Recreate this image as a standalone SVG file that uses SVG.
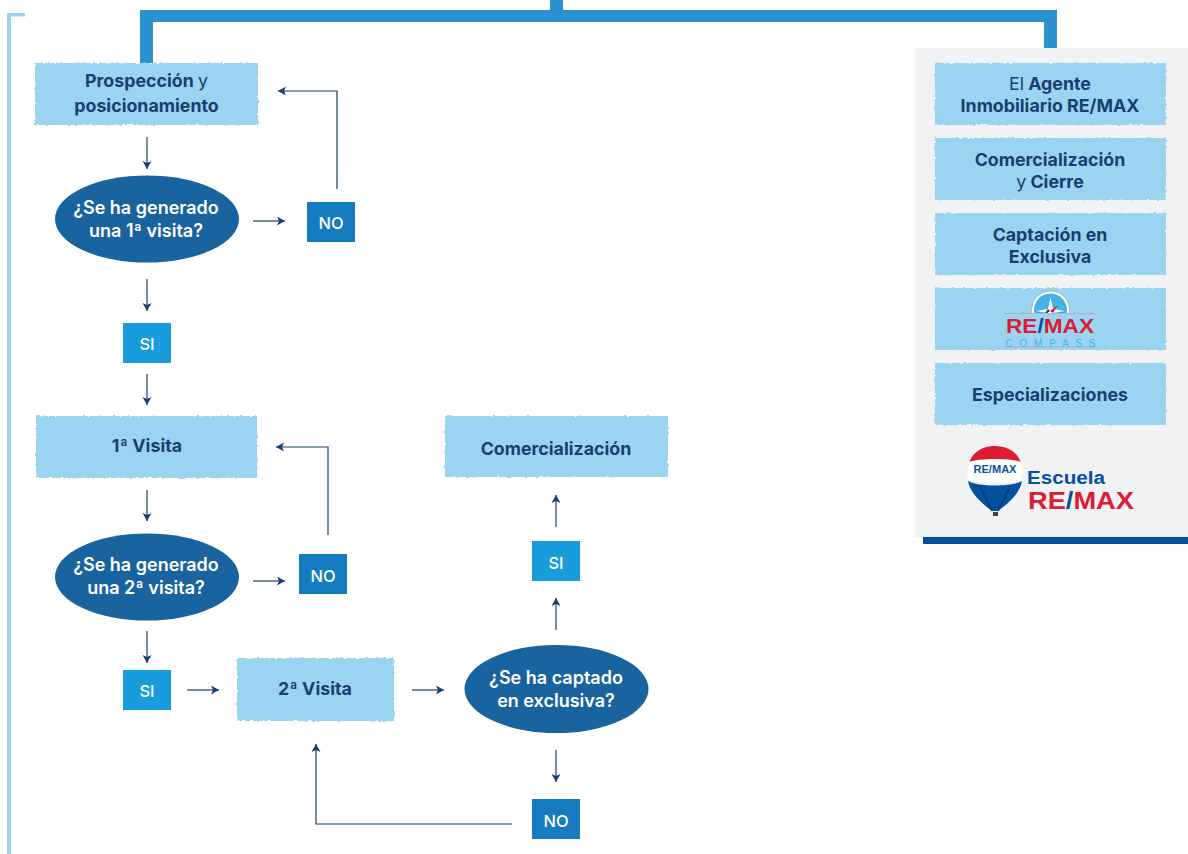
<svg xmlns="http://www.w3.org/2000/svg" width="1188" height="854" viewBox="0 0 1188 854">
<style>
text{font-family:Inter,"Open Sans","Liberation Sans",sans-serif;text-anchor:middle}
.b{fill:#9bd4f0;filter:url(#rough)}
.t{font-size:17.800px;font-weight:700;fill:#1b3e70}
.r{font-weight:400}
.e{fill:#19639f}
.w{font-size:18px;font-weight:600;fill:#fff}
.si{fill:#189cdc}.no{fill:#157cc1}
.s{font-size:16.500px;font-weight:500;fill:#fff}
.c{fill:none;stroke:#1b3e70;stroke-width:1.200;marker-end:url(#a)}
.bar{fill:#2b92cf}
.red{fill:#dc1c33}
.logo{font-family:"Liberation Sans",Arial,sans-serif;font-weight:700}
</style>
<defs>
<marker id="a" markerUnits="userSpaceOnUse" markerWidth="9" markerHeight="10" refX="8" refY="4.500" orient="auto"><path d="M0 0L8 4.500L0 9L2 4.500Z" fill="#1b3e70"/></marker>
<filter id="rough" x="-3%" y="-5%" width="106%" height="110%"><feTurbulence type="fractalNoise" baseFrequency="0.3" numOctaves="2" seed="4"/><feDisplacementMap in="SourceGraphic" scale="2.800" xChannelSelector="R" yChannelSelector="G"/></filter>
<clipPath id="dial"><rect x="1025" y="290" width="50" height="23.500"/></clipPath>
</defs>
<g id="frame">
<path class="bar" d="M550 0H563V10H1057V48H1044V22H153V63H140V10H550Z"/>
<path d="M7 854V13H25V16.500H11V854Z" fill="#9bd4f0"/>
</g>
<g id="panel">
<rect x="923" y="60" width="265" height="484" fill="#03519c"/>
<rect x="915" y="48" width="273" height="489" fill="#f1f2f4"/>
</g>
<g id="connectors">
<path class="c" d="M147 137V169"/>
<path class="c" d="M253 221H285"/>
<path class="c" d="M337 189V91H278"/>
<path class="c" d="M147 279V311"/>
<path class="c" d="M147 374V405"/>
<path class="c" d="M147 490V521"/>
<path class="c" d="M253 581H285"/>
<path class="c" d="M328 535V447H276"/>
<path class="c" d="M147 631V663"/>
<path class="c" d="M187 690H219"/>
<path class="c" d="M412 690H444"/>
<path class="c" d="M556 630V598"/>
<path class="c" d="M556 527V495"/>
<path class="c" d="M556 750V782"/>
<path class="c" d="M512 824H316V744"/>
</g>
<g id="n-prospeccion"><rect class="b" x="35" y="63" width="223" height="62"/><text class="t" x="146.500" y="87">Prospección <tspan class="r">y</tspan></text><text class="t" x="146.500" y="112">posicionamiento</text></g>
<g id="n-q1"><ellipse class="e" cx="147" cy="219" rx="92" ry="43.500"/><text class="w" x="146" y="214">¿Se ha generado</text><text class="w" x="146" y="237">una 1ª visita?</text></g>
<g id="n-no1"><rect class="no" x="307" y="202" width="48" height="40"/><text class="s" x="331" y="229">NO</text></g>
<g id="n-si1"><rect class="si" x="123" y="323" width="48" height="40"/><text class="s" x="147" y="350">SI</text></g>
<g id="n-visita1"><rect class="b" x="36" y="416" width="221" height="62"/><text class="t" x="147" y="452">1ª Visita</text></g>
<g id="n-q2"><ellipse class="e" cx="147" cy="577" rx="92" ry="43.500"/><text class="w" x="146" y="571">¿Se ha generado</text><text class="w" x="146" y="594">una 2ª visita?</text></g>
<g id="n-no2"><rect class="no" x="299" y="554" width="48" height="40"/><text class="s" x="323" y="582">NO</text></g>
<g id="n-si2"><rect class="si" x="123" y="670" width="48" height="40"/><text class="s" x="147" y="697">SI</text></g>
<g id="n-visita2"><rect class="b" x="237" y="658" width="157" height="63"/><text class="t" x="315" y="695">2ª Visita</text></g>
<g id="n-q3"><ellipse class="e" cx="556.500" cy="689" rx="92" ry="44"/><text class="w" x="556" y="684">¿Se ha captado</text><text class="w" x="556" y="707">en exclusiva?</text></g>
<g id="n-no3"><rect class="no" x="532" y="799" width="48" height="40"/><text class="s" x="556" y="827">NO</text></g>
<g id="n-si3"><rect class="si" x="532" y="541" width="48" height="40"/><text class="s" x="556" y="569">SI</text></g>
<g id="n-comercial"><rect class="b" x="445" y="416" width="223" height="61"/><text class="t" x="556" y="455">Comercialización</text></g>
<g id="n-agente"><rect class="b" x="935" y="63" width="231" height="62"/><text class="t" x="1050" y="90"><tspan class="r">El</tspan> Agente</text><text class="t" x="1050" y="112">Inmobiliario RE/MAX</text></g>
<g id="n-cierre"><rect class="b" x="935" y="138" width="231" height="62"/><text class="t" x="1050" y="166">Comercialización</text><text class="t" x="1050" y="188"><tspan class="r">y</tspan> Cierre</text></g>
<g id="n-captacion"><rect class="b" x="935" y="213" width="231" height="62"/><text class="t" x="1050" y="241">Captación en</text><text class="t" x="1050" y="263">Exclusiva</text></g>
<g id="n-compass"><rect class="b" x="935" y="288" width="231" height="62"/>
<g clip-path="url(#dial)"><circle cx="1050.500" cy="310" r="19" fill="#fff" stroke="#a9b4bc" stroke-width="1"/><circle cx="1050.500" cy="310" r="16.500" fill="#43b3e6"/><path d="M1050.500 297L1053 309L1065 311L1053 313L1050 320L1048 313L1036 311L1048 309Z" fill="#fff"/><path d="M1050 311L1058 305L1053 313Z" fill="#dc1c33"/><path d="M1050 311L1043 316L1048 309Z" fill="#1b3e70"/></g>
<path d="M1005 313.500H1095M1005 347H1095" stroke="#a9b4bc" stroke-width="1.200"/>
<text class="logo red" x="1050" y="333" font-size="20" textLength="88" lengthAdjust="spacingAndGlyphs">RE<tspan fill="#03519c">/</tspan>MAX</text>
<text class="logo" x="1050.500" y="346.500" font-size="10" fill="#43b3e6" style="font-weight:400" textLength="90">COMPASS</text></g>
<g id="n-especial"><rect class="b" x="935" y="363" width="231" height="62"/><text class="t" x="1050" y="401">Especializaciones</text></g>
<g id="n-escuela">
<path d="M968 471C968 454 981 446 995 446C1009 446 1022 454 1022 471L1020 478H970Z" fill="#dc1c33"/>
<path d="M969 462C978 458 1012 458 1021 462C1024 470 1022 478 1022 481C1010 483 980 483 968 481C967 475 967 468 969 462Z" fill="#fff"/>
<path d="M968 481C978 487 1012 487 1022 481C1020 494 1006 505 998 511H992C984 505 970 494 968 481Z" fill="#03519c"/>
<path d="M980 486L992 511M1010 486L998 511" stroke="#0b3a75" stroke-width="1.500" fill="none"/>
<rect x="993" y="512" width="5" height="4" fill="#444"/>
<text class="logo" x="995" y="473" font-size="10.500" fill="#03519c" textLength="43" lengthAdjust="spacingAndGlyphs">RE/MAX</text>
<text class="logo" x="1066" y="484" font-size="18" fill="#03519c" textLength="78" lengthAdjust="spacingAndGlyphs">Escuela</text>
<text class="logo red" x="1081" y="509" font-size="23" textLength="106" lengthAdjust="spacingAndGlyphs">RE<tspan fill="#03519c">/</tspan>MAX</text></g>
</svg>
